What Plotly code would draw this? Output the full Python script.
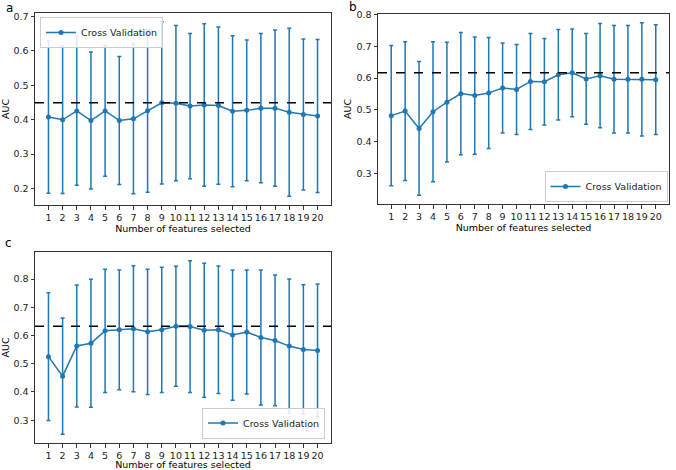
import plotly.graph_objects as go

features = list(range(1, 21))
tick_labels = [str(i) for i in features]

auc_a = [0.4075, 0.3995, 0.4255, 0.3975, 0.4255, 0.3975, 0.4025, 0.426, 0.449, 0.448,
         0.4395, 0.4425, 0.441, 0.4245, 0.427, 0.4335, 0.4335, 0.4215, 0.415, 0.4105]
std_a = [0.2215, 0.2145, 0.2165, 0.1995, 0.1905, 0.1865, 0.2185, 0.237, 0.236, 0.226,
         0.2115, 0.2365, 0.229, 0.2195, 0.205, 0.2175, 0.2275, 0.2445, 0.22, 0.2225]

auc_b = [0.4815, 0.496, 0.441, 0.494, 0.524, 0.551, 0.545, 0.553, 0.569, 0.564,
         0.5895, 0.5885, 0.6105, 0.6165, 0.5975, 0.6075, 0.5965, 0.5965, 0.596, 0.595]
std_b = [0.2215, 0.219, 0.211, 0.221, 0.189, 0.193, 0.185, 0.175, 0.142, 0.142,
         0.1515, 0.1365, 0.1425, 0.1385, 0.1435, 0.1645, 0.1695, 0.1695, 0.179, 0.173]

auc_c = [0.525, 0.456, 0.563, 0.5725, 0.6165, 0.62, 0.624, 0.613, 0.62, 0.6325,
         0.6315, 0.6185, 0.6205, 0.6015, 0.6125, 0.593, 0.5825, 0.5625, 0.5505, 0.5465]
std_c = [0.226, 0.206, 0.216, 0.2265, 0.2185, 0.212, 0.223, 0.222, 0.222, 0.2125,
         0.2335, 0.2375, 0.2255, 0.2305, 0.2195, 0.239, 0.2315, 0.2375, 0.2295, 0.2355]

panel_labels = ["a", "b", "c"]
series_name = "Cross Validation"
x_title = "Number of features selected"
y_title = "AUC"
y_ticks = {"a": [0.2, 0.3, 0.4, 0.5, 0.6, 0.7],
           "b": [0.3, 0.4, 0.5, 0.6, 0.7, 0.8],
           "c": [0.3, 0.4, 0.5, 0.6, 0.7, 0.8]}

BLUE = "#1f77b4"
W, H = 676, 470
FONT = "DejaVu Sans, Arial, sans-serif"

panels = [
    ("a", auc_a, std_a, (35, 331), (13, 205), "", dict(x=40 / W, y=1 - 17 / H, xanchor="left", yanchor="top")),
    ("b", auc_b, std_b, (378, 669), (14, 204), "2", dict(x=667.5 / W, y=1 - 202 / H, xanchor="right", yanchor="bottom")),
    ("c", auc_c, std_c, (35, 331), (252, 443), "3", dict(x=325 / W, y=1 - 438.5 / H, xanchor="right", yanchor="bottom")),
]

fig = go.Figure()
layout = dict(
    width=W, height=H,
    margin=dict(l=0, r=0, t=0, b=0, autoexpand=False),
    paper_bgcolor="white", plot_bgcolor="white",
    font=dict(family=FONT, size=10, color="black"),
    shapes=[], annotations=[],
)

for i, (name, mean, std, xd, yd, sfx, lpos) in enumerate(panels):
    legend_id = "legend" + sfx
    fig.add_trace(go.Scatter(
        x=features, y=mean, mode="lines+markers", name=series_name,
        line=dict(color=BLUE, width=1.5),
        marker=dict(color=BLUE, size=5),
        error_y=dict(type="data", array=std, visible=True, color=BLUE, thickness=1.5, width=2),
        xaxis="x" + sfx, yaxis="y" + sfx, legend=legend_id, showlegend=True,
    ))
    lo = min(m - s for m, s in zip(mean, std))
    hi = max(m + s for m, s in zip(mean, std))
    pad = (hi - lo) * 0.05
    axis_common = dict(showline=True, mirror=True, linecolor="#333", linewidth=1,
                       ticks="outside", ticklen=3.5, tickcolor="#333", tickwidth=1,
                       showgrid=False, zeroline=False, automargin=False,
                       tickfont=dict(size=9.5, family=FONT, color="#222"))
    layout["xaxis" + sfx] = dict(
        domain=[xd[0] / W, xd[1] / W], anchor="y" + sfx,
        range=[0.05, 20.95], tickmode="array", tickvals=features, ticktext=tick_labels,
        tickangle=0,
        title=dict(text=x_title, font=dict(size=9.5, family=FONT), standoff=0),
        **axis_common)
    layout["yaxis" + sfx] = dict(
        domain=[1 - yd[1] / H, 1 - yd[0] / H], anchor="x" + sfx,
        range=[lo - pad, hi + pad], tickmode="array", tickvals=y_ticks[name],
        ticktext=["%.1f" % v for v in y_ticks[name]],
        title=dict(text=y_title, font=dict(size=9.5, family=FONT), standoff=3),
        **axis_common)
    layout[legend_id] = dict(
        **lpos, xref="paper", yref="paper",
        bgcolor="rgba(255,255,255,0.85)", bordercolor="#cccccc", borderwidth=1,
        font=dict(size=9.5, family=FONT, color="#222"), itemwidth=30,
        tracegroupgap=0,
    )
    layout["shapes"].append(dict(
        type="line", xref="x" + sfx + " domain", yref="y" + sfx,
        x0=0, x1=1, y0=max(mean), y1=max(mean),
        line=dict(color="black", width=1.5, dash="dash"),
    ))

label_pos = [(4, 8), (347, 7), (3, 243)]
for lab, (px, py) in zip(panel_labels, label_pos):
    layout["annotations"].append(dict(
        text=lab, xref="paper", yref="paper", x=px / W, y=1 - py / H,
        xanchor="left", yanchor="middle", showarrow=False,
        font=dict(size=12, family=FONT, color="black"),
    ))

fig.update_layout(**layout)
fig.write_html("out.html", config={"displayModeBar": False},
               post_script="document.body.style.margin='0';")
